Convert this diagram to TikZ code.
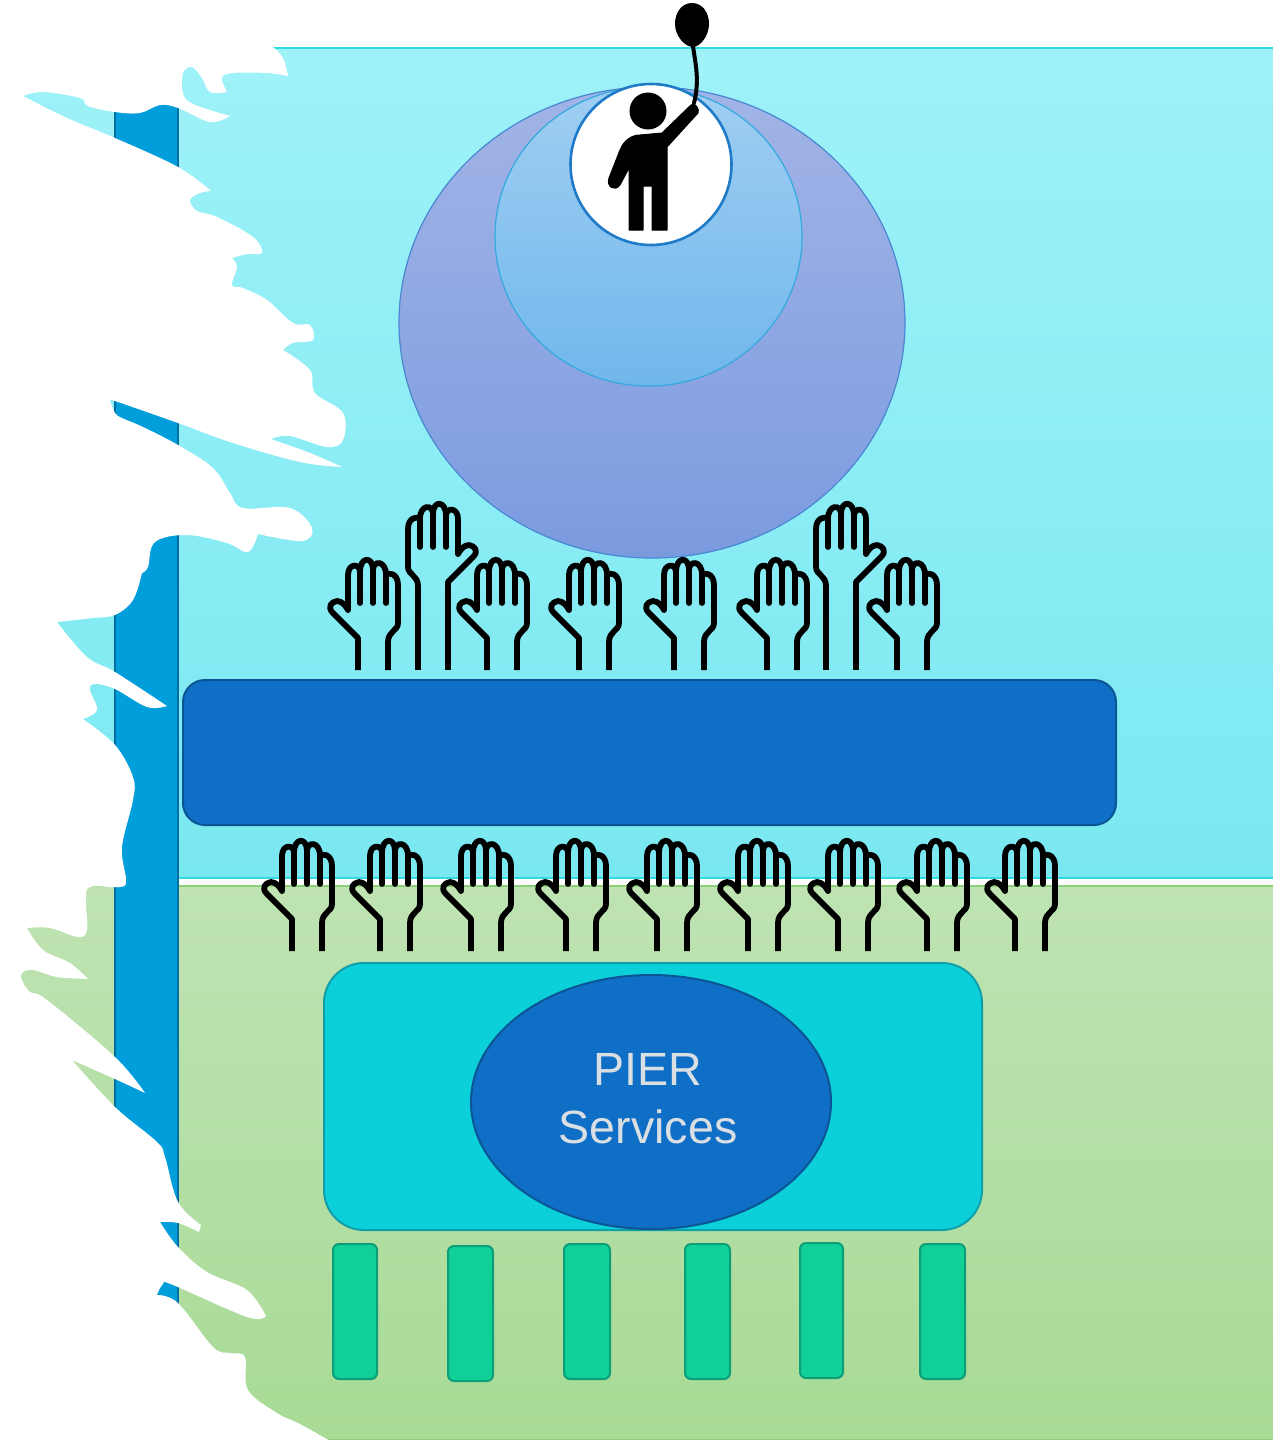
\documentclass[tikz,border=0pt]{standalone}
\usepackage{fontspec}
\setmainfont{Liberation Sans}
\usetikzlibrary{shapes.geometric}
\definecolor{skyTop}{HTML}{9FF2F8}
\definecolor{skyBot}{HTML}{7AE8F1}
\definecolor{skyLine}{HTML}{2FDCE6}
\definecolor{grassTop}{HTML}{BFE3B3}
\definecolor{grassBot}{HTML}{A8DB96}
\definecolor{grassLine}{HTML}{8CCF78}
\definecolor{pole}{HTML}{009EDB}
\definecolor{poleLine}{HTML}{006F9F}
\definecolor{royal}{HTML}{0F6FC6}
\definecolor{royalLine}{HTML}{0B5595}
\definecolor{tealBox}{HTML}{0BD0D9}
\definecolor{tealLine}{HTML}{109FA8}
\definecolor{mint}{HTML}{10CF97}
\definecolor{mintLine}{HTML}{0C9E78}
\definecolor{bigTop}{HTML}{A2B4E6}
\definecolor{bigBot}{HTML}{7B9BDF}
\definecolor{bigLine}{HTML}{4B86D2}
\definecolor{midTop}{HTML}{A0CEF2}
\definecolor{midBot}{HTML}{70B7EC}
\definecolor{midLine}{HTML}{34A9E0}
\definecolor{topLine}{HTML}{1F7AC8}
\definecolor{pierText}{HTML}{D9DFE3}
\newcommand{\handpath}{%
    \draw[handline] (-15,0) -- (-15,-32) -- (-40,-57)
      .. controls (-46,-63) and (-42,-68) .. (-36,-69)
      .. controls (-31,-69) and (-27,-64) .. (-25,-60)
      -- (-25,-95)
      .. controls (-25,-107) and (-13,-107) .. (-13,-98)
      .. controls (-13,-114) and (0,-114) .. (0,-100)
      .. controls (0,-110) and (13,-110) .. (13,-95)
      .. controls (15,-98) and (25,-97) .. (25,-85)
      -- (25,-47) .. controls (25,-39) and (15,-39) .. (15,-28) -- (15,0);
    \draw[handline,line cap=round] (-13,-98) -- (-13,-67) (0,-100) -- (0,-67) (13,-95) -- (13,-67);
}
\tikzset{
  x=1pt,y=-1pt,
  handline/.style={draw=black,line width=5.8pt,line cap=butt,line join=round},
  slab/.style={rectangle,rounded corners=6pt,draw=mintLine,line width=2pt,fill=mint,minimum width=44pt,minimum height=135pt,inner sep=0pt},
  hand/.pic={\handpath},
  tallhand/.pic={
    \draw[handline] (-15,-1) -- (-15,56) (15,-1) -- (15,56);
    \begin{scope}[xscale=-1]\handpath\end{scope}
  }
}
\begin{document}
\begin{tikzpicture}
\clip (0,0) rectangle (1273,1440);
\fill[white] (0,0) rectangle (1273,1440);
% bands
\path[draw=skyLine,line width=1.5pt,top color=skyTop,bottom color=skyBot] (-5,48) rectangle (1290,878);
\path[draw=grassLine,line width=1.5pt,top color=grassTop,bottom color=grassBot] (-5,886) rectangle (1290,1440);
% vertical pole
\path[draw=poleLine,line width=2pt,fill=pole] (115,60) rectangle (178,1360);
% torn white edge
\fill[white] (-5,-5) -- (273,-5) -- (273,47)
 -- plot[smooth,tension=.6] coordinates {(273,47) (283,58) (288,76)}
 -- plot[smooth,tension=.6] coordinates {(288,76) (267,73) (233,73) (222,78) (227,92)}
 -- plot[smooth,tension=.6] coordinates {(227,92) (210,92) (202,78) (192,67) (183,73) (183,93) (193,104) (230,116)}
 -- plot[smooth,tension=.6] coordinates {(230,116) (210,122) (178,108) (160,105) (140,113) (115,112) (88,106) (80,98) (43,92) (23,96)}
 -- plot[smooth,tension=.6] coordinates {(23,96) (67,118) (115,138) (178,167) (211,191)}
 -- plot[smooth,tension=.6] coordinates {(211,191) (200,193) (190,200) (197,211) (217,217) (253,237) (262,253) (247,254) (232,258)}
 -- plot[smooth,tension=.6] coordinates {(232,258) (237,267) (232,285) (243,288) (267,300) (293,323) (310,325) (313,340) (293,343) (283,350)}
 -- plot[smooth,tension=.6] coordinates {(283,350) (310,370) (315,393) (343,413) (343,440) (327,447) (290,436) (271,439)}
 -- plot[smooth,tension=.6] coordinates {(271,439) (310,453) (342,467)}
 -- plot[smooth,tension=.6] coordinates {(342,467) (300,462) (233,443) (178,423) (115,401) (110,400)}
 -- plot[smooth,tension=.6] coordinates {(110,400) (115,413) (122,418) (143,427) (178,445) (213,468) (230,493) (243,508) (290,508) (312,528) (302,541) (258,534)}
 -- plot[smooth,tension=.6] coordinates {(258,534) (248,552) (227,543) (187,535) (155,542) (148,567) (142,573)}
 -- plot[smooth,tension=.6] coordinates {(142,573) (133,600) (115,615) (93,618) (57,622)}
 -- plot[smooth,tension=.6] coordinates {(57,622) (87,657) (115,672) (167,706)}
 -- plot[smooth,tension=.6] coordinates {(167,706) (147,707) (115,689) (95,684) (90,690) (97,710) (83,719)}
 -- plot[smooth,tension=.6] coordinates {(83,719) (115,745) (133,777) (133,800) (122,847) (126,880) (120,887) (90,887) (86,900) (87,930) (78,937) (50,928) (27,928)}
 -- plot[smooth,tension=.6] coordinates {(27,928) (43,950) (70,963) (88,979)}
 -- plot[smooth,tension=.6] coordinates {(88,979) (57,977) (33,970) (22,973) (22,980) (30,992) (47,1000) (115,1057) (145,1093)}
 -- plot[smooth,tension=.6] coordinates {(145,1093) (115,1079) (72,1060)}
 -- plot[smooth,tension=.6] coordinates {(72,1060) (115,1107) (157,1142) (165,1157) (178,1202) (201,1225)}
 -- (199,1232)
 -- plot[smooth,tension=.6] coordinates {(199,1232) (178,1223) (160,1222)}
 -- plot[smooth,tension=.6] coordinates {(160,1222) (178,1247) (207,1272) (247,1290) (266,1316)}
 -- plot[smooth,tension=.6] coordinates {(266,1316) (247,1317) (173,1285) (163,1284) (157,1295)}
 -- plot[smooth,tension=.6] coordinates {(157,1295) (178,1303) (213,1347) (230,1353) (245,1357) (248,1390) (277,1413) (300,1424) (330,1441) (338,1446)}
 -- (-5,1446) -- cycle;
% circles
\path[draw=bigLine,line width=1.2pt,top color=bigTop,bottom color=bigBot] (652,322.5) ellipse [x radius=253,y radius=235.5];
\path[draw=midLine,line width=1.2pt,top color=midTop,bottom color=midBot] (648.5,236.5) ellipse [x radius=153.5,y radius=149.5];
\path[draw=topLine,line width=2.6pt,fill=white] (651,164.5) circle [radius=80.5];
% person and balloon
\fill (648,111) circle [radius=18.5];
\draw[black,fill=black,line width=1pt,line join=round]
  (662,133) -- (691,105) .. controls (695,101) and (700,110) .. (698,113)
  -- (667,147) -- (667,230) -- (652,230) -- (652,186) -- (643,186) -- (643,230) -- (629,230) -- (629,168)
  -- (620,185) .. controls (615,192) and (606,187) .. (609,178)
  -- (620,150) .. controls (624,140) and (632,135) .. (640,135) -- cycle;
\draw[line width=4pt,line cap=round] (693,46) .. controls (695,62) and (700,80) .. (694,103);
\fill (692,3) .. controls (702,3) and (709,12) .. (709,24) .. controls (709,36) and (700,47) .. (693,47)
  .. controls (685,47) and (675,36) .. (675,24) .. controls (675,12) and (682,3) .. (692,3) -- cycle;
% raised hands, upper row
\pic at (373,670) {hand};
\pic at (433,614) {tallhand};
\pic at (502,670) {hand};
\pic at (594,670) {hand};
\pic at (689,670) {hand};
\pic at (782,670) {hand};
\pic at (841,614) {tallhand};
\pic at (912,670) {hand};
% big bar
\node (bar) at (649.5,752.5) [rectangle,rounded corners=22pt,draw=royalLine,line width=2pt,fill=royal,minimum width=933pt,minimum height=145pt,inner sep=0pt] {};
% raised hands, lower row
\pic at (307,951) {hand};
\pic at (395,951) {hand};
\pic at (486,951) {hand};
\pic at (581,951) {hand};
\pic at (672,951) {hand};
\pic at (763,951) {hand};
\pic at (853,951) {hand};
\pic at (942,951) {hand};
\pic at (1030,951) {hand};
% services
\node (box) at (653,1096.5) [rectangle,rounded corners=40pt,draw=tealLine,line width=2pt,fill=tealBox,minimum width=658pt,minimum height=267pt,inner sep=0pt] {};
\node (pier) at (651,1102) [ellipse,draw=royalLine,line width=2pt,fill=royal,minimum width=360pt,minimum height=254pt,inner sep=0pt] {};
\node (pierlabel) at (648,1099) [text=pierText,align=center,inner sep=0pt,font=\fontsize{46.6}{58}\selectfont] {PIER\\Services};
% slabs
\node[slab] (s1) at (355,1311.5) {};
\node[slab,minimum width=45pt] (s2) at (470.5,1313.5) {};
\node[slab,minimum width=46pt] (s3) at (587,1311.5) {};
\node[slab,minimum width=45pt] (s4) at (707.5,1311.5) {};
\node[slab,minimum width=43pt] (s5) at (821.5,1310.5) {};
\node[slab,minimum width=45pt] (s6) at (942.5,1311.5) {};
\end{tikzpicture}
\end{document}
